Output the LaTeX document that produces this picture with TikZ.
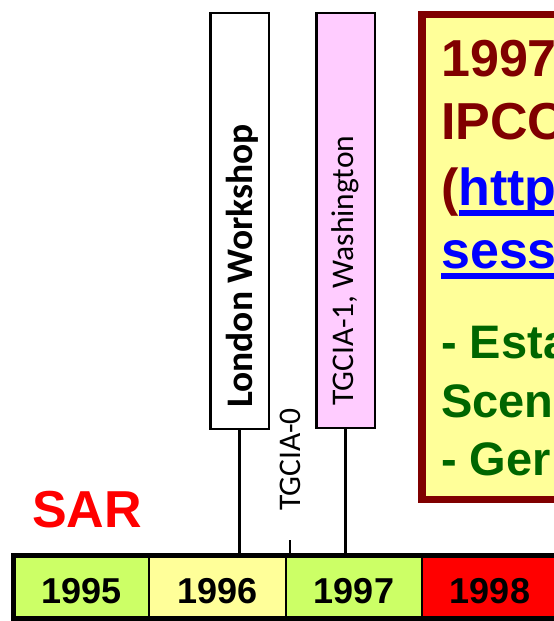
\documentclass[tikz,border=0pt]{standalone}
\usepackage{fontspec}
\setmainfont{Liberation Sans}
\newfontfamily\carlito{Carlito}
\definecolor{darkred}{HTML}{800000}
\definecolor{lightyel}{HTML}{FFFF99}
\definecolor{limegr}{HTML}{CCFF66}
\definecolor{pinkfill}{HTML}{FFCCFF}
\definecolor{darkgr}{HTML}{006600}
\definecolor{linkblue}{HTML}{0000FF}
\newcommand\ulnk[1]{\setbox0=\hbox{#1}\rlap{\rule[-10.5pt]{\dimexpr\wd0+20pt\relax}{6pt}}\box0}
\tikzset{
  eventbox/.style={draw=black, line width=2.5pt, inner sep=0pt, minimum width=58.5pt},
  stem/.style={draw=black, line width=2.5pt},
  vlabel/.style={rotate=90, anchor=base west, inner sep=0pt, font=\carlito\fontsize{31.5}{36}\selectfont},
  yearlbl/.style={anchor=base, inner sep=0pt, font=\bfseries\fontsize{36}{40}\selectfont},
  boxline/.style={anchor=base west, inner sep=0pt, font=\bfseries\fontsize{52}{60}\selectfont},
  greenline/.style={anchor=base west, inner sep=0pt, text=darkgr, font=\bfseries\fontsize{47}{54}\selectfont}
}
\begin{document}
\begin{tikzpicture}[x=1pt,y=-1pt]
\useasboundingbox (0,0) rectangle (554,621);
\clip (0,0) rectangle (554,621);
% timeline cells
\fill[limegr] (13,555.5) rectangle (149,618.5);
\fill[lightyel] (149,555.5) rectangle (286,618.5);
\fill[limegr] (286,555.5) rectangle (422,618.5);
\fill[red] (422,555.5) rectangle (620,618.5);
\draw[line width=1.3pt] (149,555.5) -- (149,618.5) (286,555.5) -- (286,618.5) (422,555.5) -- (422,618.5);
\draw[line width=5pt] (13,555.5) rectangle (620,618.5);
\node[yearlbl] (y95) at (81.5,603) {1995};
\node[yearlbl] (y96) at (217.5,603) {1996};
\node[yearlbl] (y97) at (354,603) {1997};
\node[yearlbl] (y98) at (490,603) {1998};
% SAR
\node[anchor=base west, inner sep=0pt, text=red, font=\bfseries\fontsize{52}{60}\selectfont] (sar) at (32,527) {SAR};
% event boxes
\node[eventbox, fill=white, minimum height=416pt] (lw) at (239.5,221) {};
\node[eventbox, fill=pinkfill, minimum height=415pt] (tg1) at (345.5,220.5) {};
\node[vlabel, font=\carlito\bfseries\fontsize{37.5}{44}\selectfont] (lwt) at (252,408) {London Workshop};
\node[vlabel] (tg1t) at (353.5,406) {TGCIA-1, Washington};
\node[vlabel] (tg0t) at (300,511) {TGCIA-0};
\coordinate (lwend) at (239.5,555.5);
\coordinate (tg1end) at (345.5,555.5);
\coordinate (tg0top) at (290,540);
\coordinate (tg0end) at (290,555.5);
\draw[stem] (lw.south) -- (lwend);
\draw[stem] (tg1.south) -- (tg1end);
\draw[stem] (tg0top) -- (tg0end);
% big info box
\node[draw=darkred, line width=7.5pt, fill=lightyel, inner sep=0pt, minimum width=278pt, minimum height=485pt] (info) at (561,257) {};
\node[boxline, text=darkred] (l1) at (441,76) {1997};
\node[boxline, text=darkred] (l2) at (441,139) {IPCC};
\node[boxline, text=linkblue] (l3) at (441,205) {\textcolor{darkred}{(}\ulnk{http}};
\node[boxline, text=linkblue] (l4) at (441,268) {\ulnk{sess}};
\node[greenline] (l5) at (441,358) {- Esta};
\node[greenline] (l6) at (441,417) {Scen};
\node[greenline] (l7) at (441,475) {- Ger};
\end{tikzpicture}
\end{document}
